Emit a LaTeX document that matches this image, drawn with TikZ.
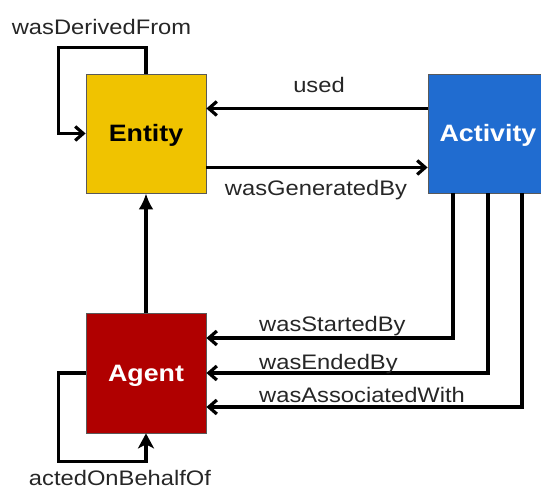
\documentclass[tikz,border=0pt]{standalone}
\usepackage{fontspec}
\setmainfont{Liberation Sans}
\newfontfamily\provfont[FakeStretch=1.13]{Liberation Sans}
\usetikzlibrary{arrows.meta}

\definecolor{entityyellow}{RGB}{240,195,0}
\definecolor{activityblue}{RGB}{32,108,208}
\definecolor{agentred}{RGB}{176,0,0}

\begin{document}
\begin{tikzpicture}[
    x=1pt, y=1pt,
    box/.style={draw=gray!70!black, line width=0.8pt, minimum width=120pt,
        minimum height=119pt, inner sep=0pt, text height=17pt, text depth=0pt,
        font=\provfont\fontsize{23.7}{25}\selectfont\bfseries},
    rel/.style={font=\provfont\fontsize{21}{23}\selectfont, inner sep=0pt, text=black!85},
    link/.style={line width=3.2pt, -{Straight Barb[length=8pt, width=14pt]}},
]
    \useasboundingbox (0,0) rectangle (541,489);

    % Boxes
    \node[box, fill=entityyellow] (Entity) at (146, 355.5) {Entity};
    \node[box, fill=activityblue, text=white] (Activity) at (488, 355.5) {Activity};
    \node[box, fill=agentred, text=white, minimum height=120pt] (Agent) at (146, 116) {Agent};

    % Entity <-> Activity
    \draw[link] ([yshift=25pt]Activity.west) -- ([yshift=25pt]Entity.east);
    \draw[link] ([yshift=-34pt]Entity.east) -- ([yshift=-34pt]Activity.west);

    % Self loops
    \draw[link] (Entity.north) -- ++(0,26) -| ([xshift=-27pt]Entity.west) -- (Entity.west);
    \draw[line width=3.2pt, -{Stealth[length=15pt, width=16pt, inset=4pt]}]
        (Agent.west) -- ++(-27,0) |- ([yshift=-28pt]Agent.south) -- (Agent.south);

    % Agent -> Entity
    \draw[line width=3.2pt, -{Latex[length=16pt, width=15pt]}] (Agent.north) -- (Entity.south);

    % Activity -> Agent
    \draw[link] ([xshift=-35pt]Activity.south) |- ([yshift=35pt]Agent.east);
    \draw[link] (Activity.south) |- (Agent.east);
    \draw[link] ([xshift=34pt]Activity.south) |- ([yshift=-34pt]Agent.east);

    % Labels
    \node[rel, anchor=base] (lDerived) at (101.5, 454) {wasDerivedFrom};
    \node[rel, anchor=base] (lUsed) at (319, 396) {used};
    \node[rel, anchor=base] (lGenerated) at (316, 293) {wasGeneratedBy};
    \node[rel, anchor=base west] (lStarted) at (259, 157) {wasStartedBy};
    \node[rel, anchor=base west] (lEnded) at (259, 119) {wasEndedBy};
    \node[rel, anchor=base west] (lAssociated) at (259, 86) {wasAssociatedWith};
    \node[rel, anchor=base] (lBehalf) at (120, 3) {actedOnBehalfOf};
\end{tikzpicture}
\end{document}
